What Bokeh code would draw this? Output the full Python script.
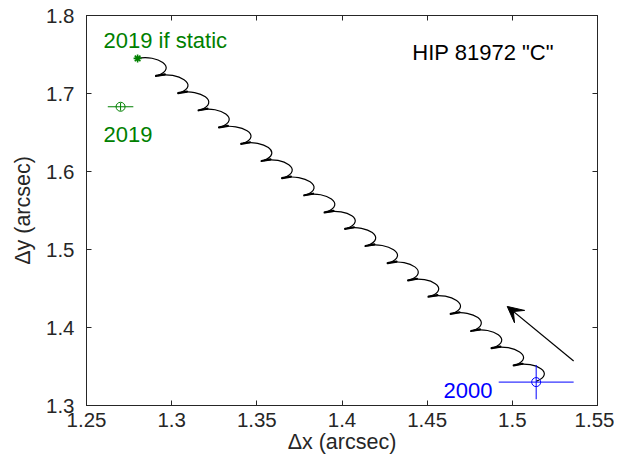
from bokeh.plotting import figure
from bokeh.models import Range1d, FixedTicker, LinearAxis, Arrow, VeeHead
from bokeh.embed import file_html
from bokeh.resources import INLINE
from bokeh.core.properties import value

# ---- data ----
years = list(range(2000, 2020))
track_x = [1.514, 1.502, 1.489, 1.477, 1.465, 1.452, 1.440, 1.428, 1.415, 1.403,
           1.391, 1.379, 1.366, 1.354, 1.342, 1.329, 1.317, 1.305, 1.292, 1.280]
track_y = [1.331, 1.352, 1.374, 1.396, 1.418, 1.440, 1.461, 1.483, 1.505, 1.527,
           1.548, 1.570, 1.592, 1.614, 1.636, 1.657, 1.679, 1.701, 1.723, 1.745]

static_x = [1.280]
static_y = [1.745]

meas_x = [1.514, 1.270]
meas_y = [1.330, 1.683]
meas_xerr = [0.022, 0.0075]
meas_yerr = [0.022, 0.005]
meas_color = ["#0000FF", "#008000"]

arrow_start = (1.536, 1.357)
arrow_end = (1.497, 1.427)

x_ticks = [1.25, 1.3, 1.35, 1.4, 1.45, 1.5, 1.55]
x_tick_labels = ["1.25", "1.3", "1.35", "1.4", "1.45", "1.5", "1.55"]
y_ticks = [1.3, 1.4, 1.5, 1.6, 1.7, 1.8]
y_tick_labels = ["1.3", "1.4", "1.5", "1.6", "1.7", "1.8"]

FONT = "Liberation Sans"
AX = "#262626"
TXT_SHIFT = 0.0078   # compensates the renderer's baseline offset

# loop shape offsets (style)
loop_dx = 0.0117
loop_dy_top = 0.0051
loop_dy_bot = 0.0102
cusp_back = (0.0012, 0.0005)
cusp_fwd = (0.0040, 0.0015)

p = figure(width=614, height=456,
           x_range=Range1d(1.25, 1.55), y_range=Range1d(1.3, 1.8),
           output_backend="svg", toolbar_location=None,
           min_border_left=86, min_border_right=17,
           min_border_top=15, min_border_bottom=48)
p.grid.visible = False
p.outline_line_color = AX
p.outline_line_width = 1
p.background_fill_color = "white"
p.border_fill_color = "white"

def style_axis(ax, ticks, labels, show_labels=True):
    ax.ticker = FixedTicker(ticks=ticks)
    ax.major_label_overrides = {t: l for t, l in zip(ticks, labels)}
    ax.major_tick_in = 5
    ax.major_tick_out = 0
    ax.minor_tick_in = 0
    ax.minor_tick_out = 0
    ax.axis_line_color = AX
    ax.major_tick_line_color = AX
    ax.major_label_text_color = AX
    ax.major_label_text_font = FONT
    ax.axis_label_text_font = FONT
    ax.axis_label_text_font_style = "normal"
    ax.axis_label_text_color = AX
    if show_labels:
        ax.major_label_text_font_size = "20.5px"
        ax.axis_label_text_font_size = "21.5px"
    else:
        ax.major_label_text_font_size = "0px"
        ax.major_label_standoff = 0

style_axis(p.xaxis[0], x_ticks, x_tick_labels)
style_axis(p.yaxis[0], y_ticks, y_tick_labels)
p.xaxis[0].axis_label = "Δx (arcsec)"
p.yaxis[0].axis_label = "Δy (arcsec)"
p.xaxis[0].major_label_standoff = 7
p.xaxis[0].axis_label_standoff = 0
p.yaxis[0].major_label_standoff = 12
p.yaxis[0].axis_label_standoff = 8

top = LinearAxis()
style_axis(top, x_ticks, x_tick_labels, show_labels=False)
p.add_layout(top, "above")
right = LinearAxis()
style_axis(right, y_ticks, y_tick_labels, show_labels=False)
p.add_layout(right, "right")

# parallax track: one arc per year between consecutive cusps
x0 = track_x[1:]
y0 = track_y[1:]
x1 = track_x[:-1]
y1 = track_y[:-1]
cx0 = [x + loop_dx for x in x0]
cy0 = [y + loop_dy_top for y in y0]
cx1 = [x + loop_dx for x in x1]
cy1 = [y + loop_dy_bot for y in y1]
p.bezier(x0=x0, y0=y0, x1=x1, y1=y1, cx0=cx0, cy0=cy0, cx1=cx1, cy1=cy1,
         line_color="black", line_width=1.2)

# the small retrograde kinks at the inner cusps look thicker
inner_x = track_x[1:-1]
inner_y = track_y[1:-1]
p.segment(x0=[x - cusp_back[0] for x in inner_x], y0=[y - cusp_back[1] for y in inner_y],
          x1=[x + cusp_fwd[0] for x in inner_x], y1=[y + cusp_fwd[1] for y in inner_y],
          line_color="black", line_width=2.2, line_cap="round")

# error bars
p.segment(x0=[x - e for x, e in zip(meas_x, meas_xerr)], y0=meas_y,
          x1=[x + e for x, e in zip(meas_x, meas_xerr)], y1=meas_y,
          line_color=meas_color, line_width=1)
p.segment(x0=meas_x, y0=[y - e for y, e in zip(meas_y, meas_yerr)],
          x1=meas_x, y1=[y + e for y, e in zip(meas_y, meas_yerr)],
          line_color=meas_color, line_width=1)
p.scatter(x=meas_x, y=meas_y, marker="circle", size=9, fill_color=None,
          line_color=meas_color, line_width=1)

p.scatter(x=static_x, y=static_y, marker="asterisk", size=8,
          line_color="#008000", line_width=1.6)

p.add_layout(Arrow(end=VeeHead(size=16, fill_color="black", line_color="black"),
                   x_start=arrow_start[0], y_start=arrow_start[1],
                   x_end=arrow_end[0], y_end=arrow_end[1],
                   line_color="black", line_width=1.2))

# annotations
def note(x, y, s, color, align="left"):
    p.text(x=[x], y=[y + TXT_SHIFT], text=[s], text_color=color,
           text_font=value(FONT), text_font_size="22px",
           text_baseline="alphabetic", text_align=align)

note(1.260, 1.7606, "2019 if static", "#008000")
note(1.260, 1.6397, "2019", "#008000")
note(1.4883, 1.3115, "2000", "#0000FF", align="right")
note(1.4413, 1.7453, 'HIP 81972 "C"', "black")

open("out.html", "w").write(file_html(p, INLINE))
